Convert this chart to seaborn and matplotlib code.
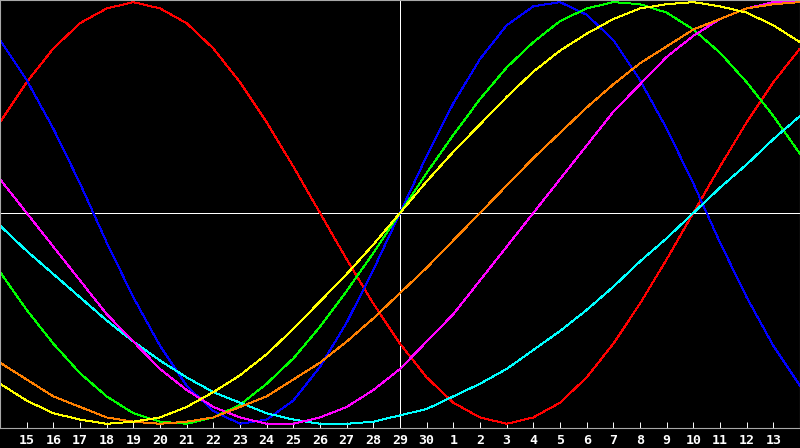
import pandas as pd
import matplotlib
matplotlib.use('Agg')
import matplotlib.pyplot as plt
import seaborn as sns

# Dias mostrados (indice 0 = dia 14, indice 30 = dia 14 do mes seguinte)
dias = [14, 15, 16, 17, 18, 19, 20, 21, 22, 23, 24, 25, 26, 27, 28, 29, 30,
        1, 2, 3, 4, 5, 6, 7, 8, 9, 10, 11, 12, 13, 14]

# Valores, em % (-100 a 100)
vermelho = [43, 62, 78, 90, 97, 100, 97, 90, 78, 62, 43, 22, 0, -22, -43, -62,
            -78, -90, -97, -100, -97, -90, -78, -62, -43, -22, 0, 22, 43, 62, 78]
azul = [82, 63, 40, 14, -14, -40, -63, -82, -94, -100, -98, -89, -73, -52, -27, 0,
        27, 52, 73, 89, 98, 100, 94, 82, 63, 40, 14, -14, -40, -63, -82]
verde = [-28, -46, -62, -76, -87, -95, -99, -100, -97, -91, -81, -69, -54, -37, -19, 0,
         19, 37, 54, 69, 81, 91, 97, 100, 99, 95, 87, 76, 62, 46, 28]
ciano = [-6, -18, -29, -40, -51, -61, -70, -78, -85, -90, -95, -98, -100, -100, -99, -96,
         -93, -87, -81, -74, -65, -56, -46, -35, -23, -12, 0, 12, 23, 35, 46]
magenta = [16, 0, -16, -32, -48, -61, -74, -84, -92, -97, -100, -100, -97, -92, -84, -74,
           -61, -48, -32, -16, 0, 16, 32, 48, 61, 74, 84, 92, 97, 100, 100]
laranja = [-71, -79, -87, -92, -97, -99, -100, -99, -97, -92, -87, -79, -71, -61, -50, -38,
           -26, -13, 0, 13, 26, 38, 50, 61, 71, 79, 87, 92, 97, 99, 100]
amarelo = [-81, -89, -95, -98, -100, -99, -97, -92, -85, -77, -67, -55, -42, -29, -15, 0,
           15, 29, 42, 55, 67, 77, 85, 92, 97, 99, 100, 98, 95, 89, 81]

ciclos = {'vermelho': vermelho, 'azul': azul, 'verde': verde, 'ciano': ciano,
          'magenta': magenta, 'laranja': laranja, 'amarelo': amarelo}
cores = {'vermelho': '#ff0000', 'azul': '#0000ff', 'verde': '#00ff00', 'ciano': '#00ffff',
         'magenta': '#ff00ff', 'laranja': '#ff8000', 'amarelo': '#ffff00'}

linhas = []
for nome, valores in ciclos.items():
    for i, v in enumerate(valores):
        linhas.append({'idx': i, 'valor': v, 'ciclo': nome})
df = pd.DataFrame(linhas)

sns.set_theme(style='dark', rc={'axes.facecolor': 'black', 'figure.facecolor': 'black'})

fig = plt.figure(figsize=(8, 4.48), dpi=100)
ax = fig.add_axes([0, 20 / 448, 1, 428 / 448])

# Cruz central
ax.axvline(15, color='white', lw=0.7, antialiased=False, zorder=1)
ax.axhline(0, color='white', lw=0.7, antialiased=False, zorder=1)

sns.lineplot(data=df, x='idx', y='valor', hue='ciclo', hue_order=list(ciclos.keys()),
             palette=cores, legend=False, lw=0.7, antialiased=False, ax=ax, zorder=2)

ax.set_xlim(0, 30)
ax.set_ylim(-102, 101)
ax.set_xlabel('')
ax.set_ylabel('')
ax.set_yticks([])
ax.set_xticks(range(1, 30))
ax.set_xticklabels([str(d) for d in dias[1:30]], color='white',
                   fontfamily='DejaVu Sans Mono', fontweight='bold', fontsize=9.5)
ax.tick_params(axis='x', direction='in', length=4, width=0.7, color='white', pad=4,
               bottom=True)
ax.grid(False)
for s in ax.spines.values():
    s.set_visible(True)
    s.set_color('#a8a8a8')
    s.set_linewidth(0.8)

fig.savefig('out.png', dpi=100, facecolor='black')
